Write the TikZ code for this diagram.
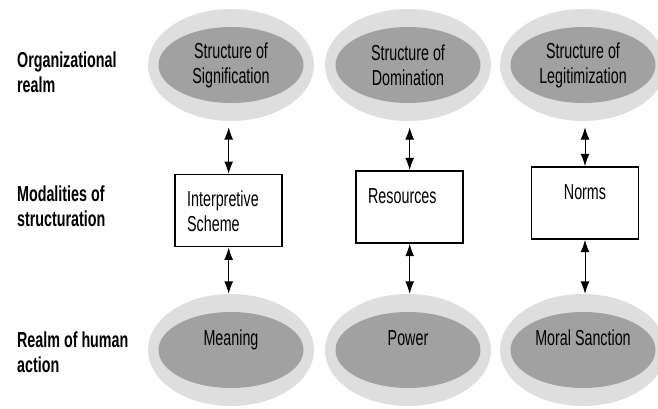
\documentclass[tikz,border=0pt]{standalone}
\usepackage{fontspec}
\setmainfont{Liberation Sans}[FakeStretch=0.66]
\usetikzlibrary{shapes.geometric,arrows.meta}
\begin{document}
\begin{tikzpicture}[>={Latex[length=10.5pt,width=7.5pt]},
  font=\fontsize{18.5}{21.3}\selectfont,
  halo/.style={ellipse,fill=black!13,minimum width=4.98cm,minimum height=3.36cm},
  core/.style={ellipse,fill=black!37,minimum width=4.35cm,minimum height=2.28cm,align=center,inner sep=1pt},
  lowcore/.style={core,text depth=0.74cm},
  modal/.style={draw,line width=1.4pt,inner xsep=0.36cm,inner ysep=0pt,text width=2.49cm,text height=0.96cm,text depth=1.2cm,align=left},
  realm/.style={anchor=west,align=left,font=\fontsize{18.5}{21.3}\selectfont\bfseries},
  link/.style={<->,line width=0.8pt}]
\useasboundingbox (0,0) rectangle (19.74,-12.27);
\node[halo] (h1) at (6.93,-1.95) {};
\node[halo] (h2) at (12.24,-1.95) {};
\node[halo] (h3) at (17.49,-1.95) {};
\node[core] (sig) at (6.93,-1.95) {Structure of\\Signification};
\node[core] (dom) at (12.24,-1.95) {Structure of\\Domination};
\node[core] (leg) at (17.49,-1.95) {Structure of\\Legitimization};
\node[modal] (scheme) at (6.86,-6.32) {Interpretive\\Scheme};
\node[modal] (res) at (12.29,-6.21) {Resources};
\node[modal,align=center] (norms) at (17.55,-6.09) {Norms};
\node[halo] (h4) at (6.93,-10.5) {};
\node[halo] (h5) at (12.24,-10.5) {};
\node[halo] (h6) at (17.49,-10.5) {};
\node[lowcore] (meaning) at (6.93,-10.5) {Meaning};
\node[lowcore] (power) at (12.24,-10.5) {Power};
\node[lowcore] (sanction) at (17.49,-10.5) {Moral Sanction};
\node[realm] (org) at (0.39,-2.16) {Organizational\\realm};
\node[realm] (mod) at (0.39,-6.18) {Modalities of\\structuration};
\node[realm] (act) at (0.39,-10.56) {Realm of human\\action};
\draw[link,shorten >=0.18cm] (scheme.north) -- (scheme.north |- h1.south);
\draw[link,shorten >=0.18cm] (res.north) -- (res.north |- h2.south);
\draw[link,shorten >=0.18cm] (norms.north) -- (norms.north |- h3.south);
\draw[link] (scheme.south) -- (scheme.south |- h4.north);
\draw[link] (res.south) -- (res.south |- h5.north);
\draw[link] (norms.south) -- (norms.south |- h6.north);
\end{tikzpicture}
\end{document}
